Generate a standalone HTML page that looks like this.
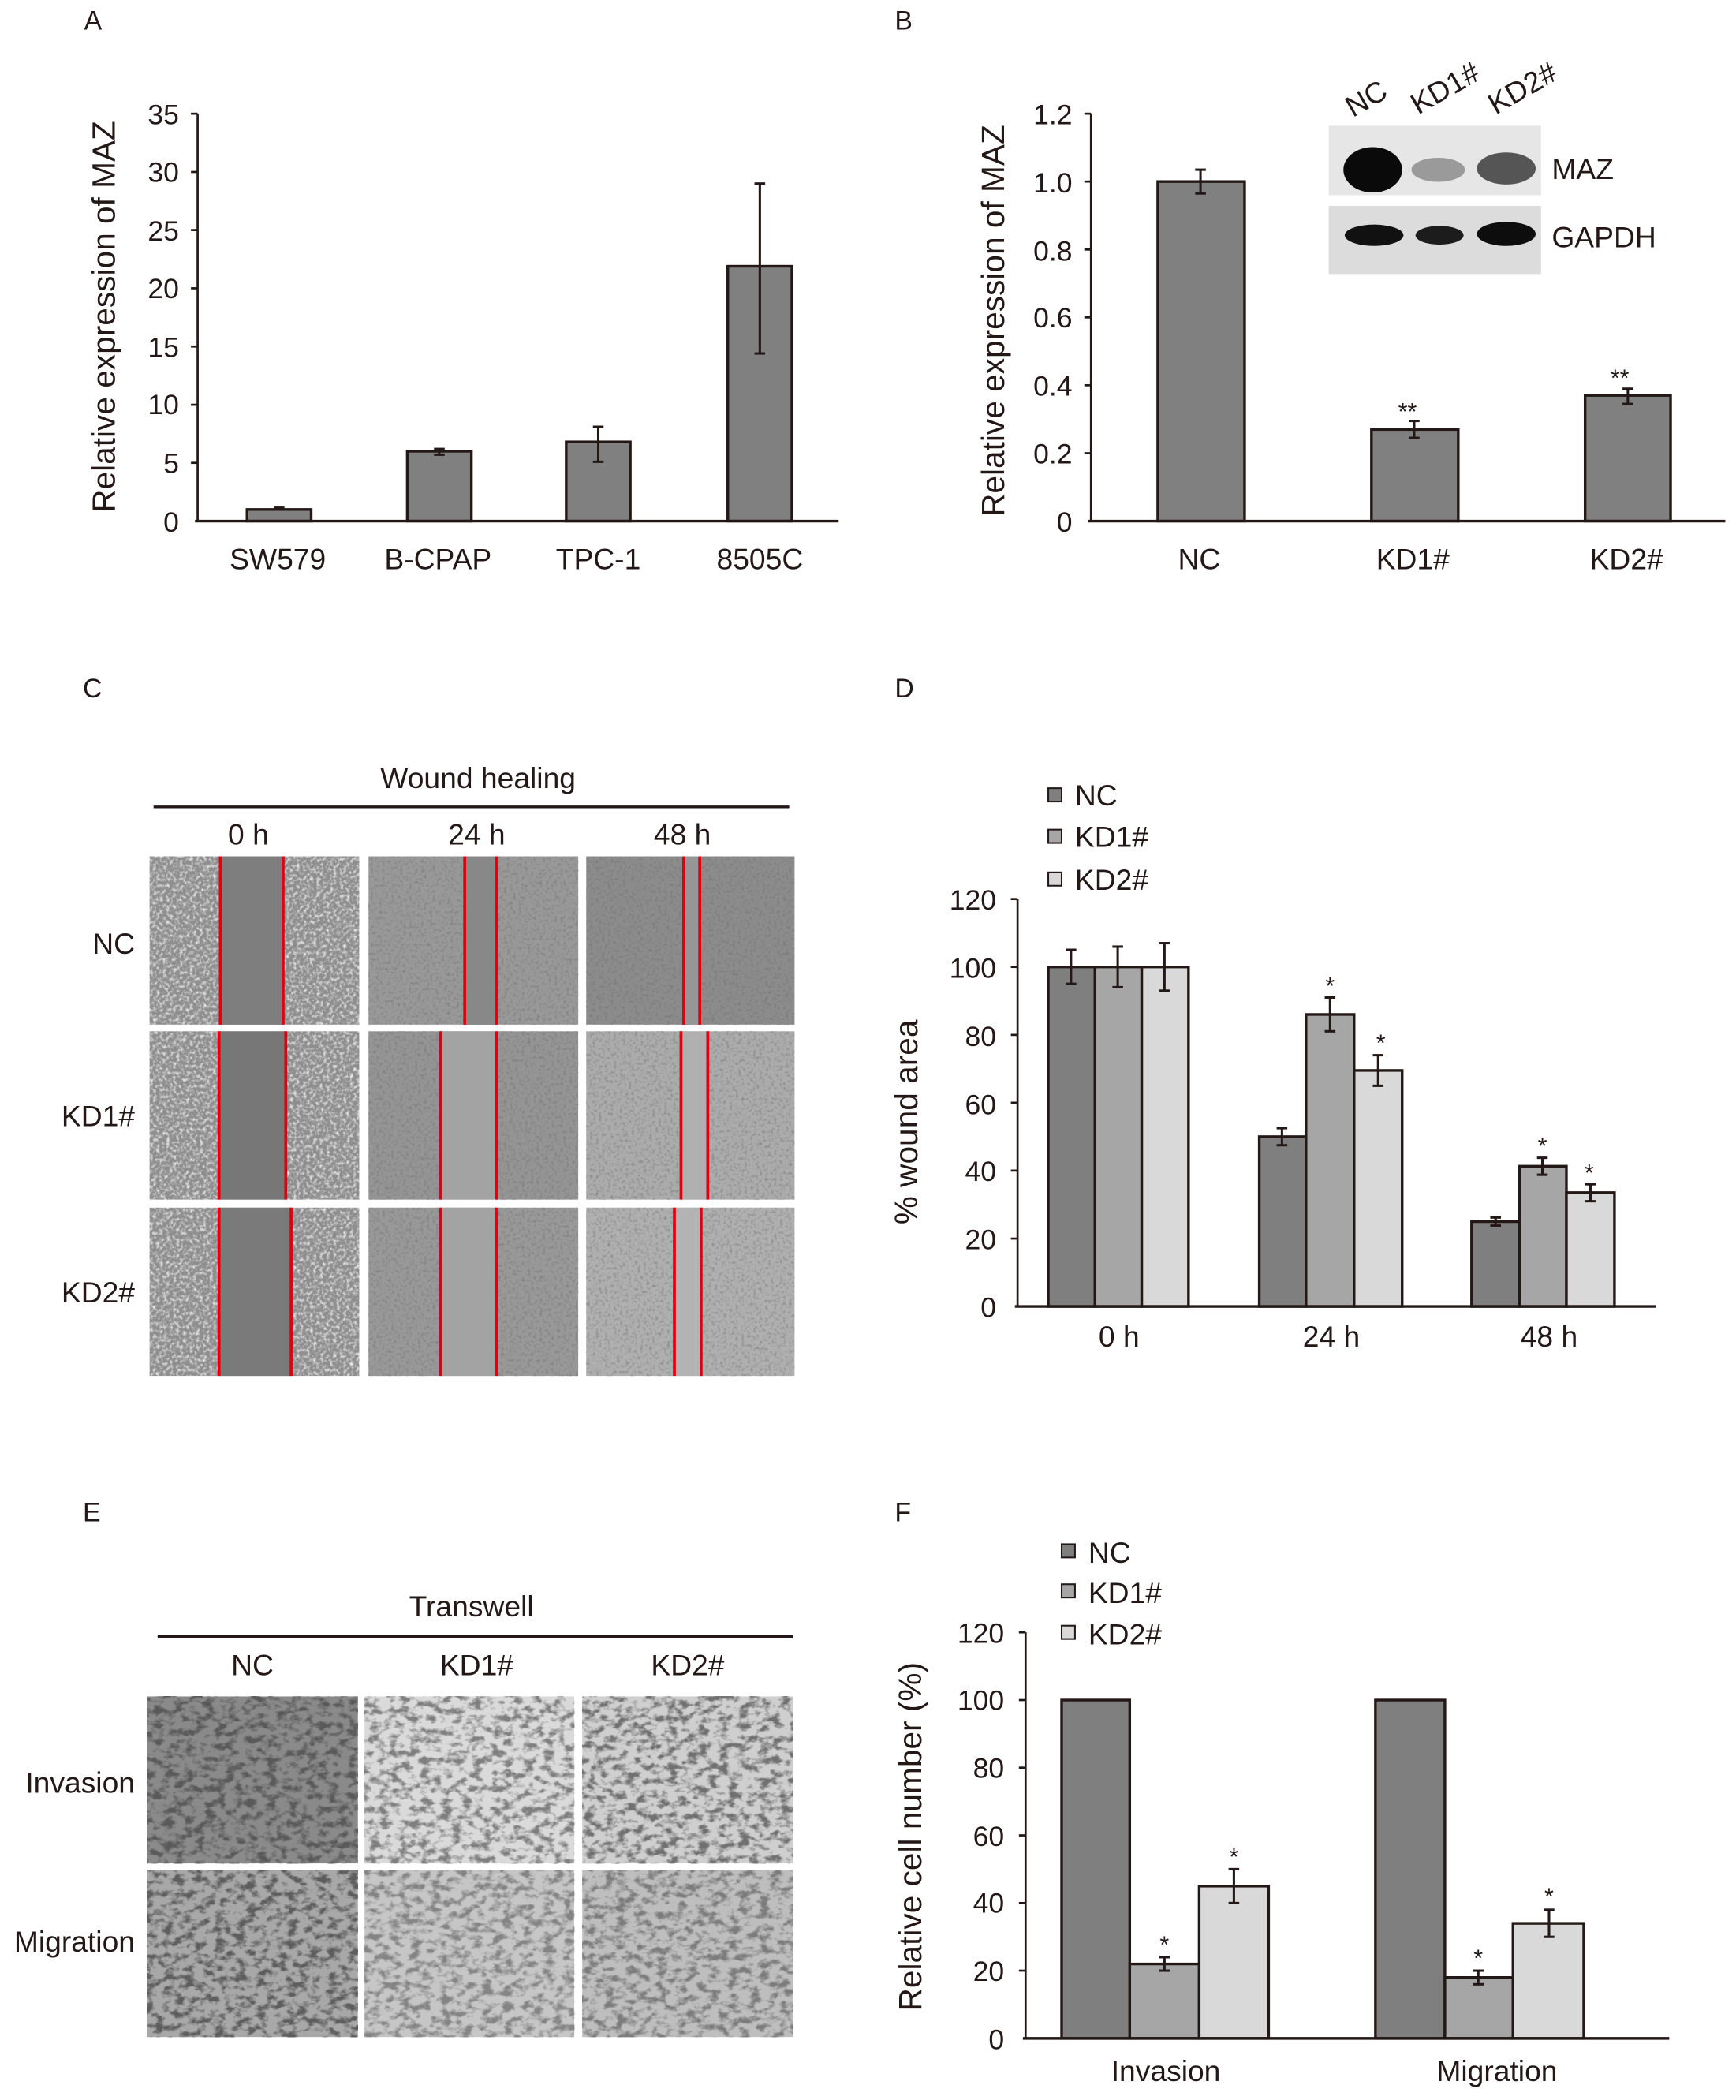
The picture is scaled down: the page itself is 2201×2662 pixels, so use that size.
<!DOCTYPE html>
<html><head><meta charset="utf-8"><style>
html,body{margin:0;padding:0;background:#fff;}
svg{display:block;}
text{font-family:"Liberation Sans",Arial,sans-serif;fill:#231815;}
</style></head><body>
<svg width="2201" height="2662" viewBox="0 0 1300 1572" xmlns="http://www.w3.org/2000/svg">
<defs>
<filter id="nf" x="0" y="0" width="100%" height="100%" filterUnits="objectBoundingBox">
 <feTurbulence type="fractalNoise" baseFrequency="0.45" numOctaves="2" seed="4"/>
 <feColorMatrix type="matrix" values="0 0 0 0 0.15 0 0 0 0 0.15 0 0 0 0 0.15 1.6 0 0 0 -0.75"/>
</filter>
<filter id="nw" x="0" y="0" width="100%" height="100%" filterUnits="objectBoundingBox">
 <feTurbulence type="fractalNoise" baseFrequency="0.4" numOctaves="2" seed="9"/>
 <feColorMatrix type="matrix" values="0 0 0 0 1 0 0 0 0 1 0 0 0 0 1 2.4 0 0 0 -1.05"/>
</filter>
<filter id="tb" x="0" y="0" width="100%" height="100%" filterUnits="objectBoundingBox">
 <feTurbulence type="fractalNoise" baseFrequency="0.13 0.19" numOctaves="3" seed="2"/>
 <feColorMatrix type="matrix" values="0 0 0 0 0.1 0 0 0 0 0.1 0 0 0 0 0.1 4 0 0 0 -1.8"/>
</filter>
</defs>

<!-- ===== Panel A ===== -->
<text x="63" y="22" font-size="20">A</text>
<g font-size="21" text-anchor="end">
<text x="134" y="93">35</text><text x="134" y="136">30</text><text x="134" y="180">25</text><text x="134" y="223">20</text>
<text x="134" y="267">15</text><text x="134" y="310">10</text><text x="134" y="354">5</text><text x="134" y="398">0</text>
</g>
<g stroke="#231815" stroke-width="1.6">
<line x1="148" y1="85" x2="148" y2="390"/>
<line x1="143" y1="85" x2="148" y2="85"/><line x1="143" y1="128.6" x2="148" y2="128.6"/><line x1="143" y1="172.1" x2="148" y2="172.1"/><line x1="143" y1="215.7" x2="148" y2="215.7"/><line x1="143" y1="259.3" x2="148" y2="259.3"/><line x1="143" y1="302.9" x2="148" y2="302.9"/><line x1="143" y1="346.4" x2="148" y2="346.4"/>
</g>
<g fill="#808080" stroke="#231815" stroke-width="2">
<rect x="185" y="381.3" width="48" height="8.7"/>
<rect x="305" y="337.7" width="48" height="52.3"/>
<rect x="424" y="330.7" width="48" height="59.3"/>
<rect x="545" y="199.2" width="48" height="190.8"/>
</g>
<g stroke="#231815" stroke-width="1.8">
<line x1="209" y1="380" x2="209" y2="382"/><line x1="205" y1="380" x2="213" y2="380"/>
<line x1="329" y1="336" x2="329" y2="340.3"/><line x1="325" y1="336" x2="333" y2="336"/><line x1="325" y1="340.3" x2="333" y2="340.3"/>
<line x1="448" y1="319.4" x2="448" y2="345.6"/><line x1="444" y1="319.4" x2="452" y2="319.4"/><line x1="444" y1="345.6" x2="452" y2="345.6"/>
<line x1="569" y1="137.3" x2="569" y2="264.5"/><line x1="565" y1="137.3" x2="573" y2="137.3"/><line x1="565" y1="264.5" x2="573" y2="264.5"/>
<line x1="146" y1="390" x2="628" y2="390" stroke-width="2"/>
</g>
<g font-size="22" text-anchor="middle">
<text x="208" y="426">SW579</text><text x="328" y="426">B-CPAP</text><text x="448" y="426">TPC-1</text><text x="569" y="426">8505C</text>
</g>
<text transform="translate(86,237) rotate(-90)" font-size="24" text-anchor="middle">Relative expression of MAZ</text>

<!-- ===== Panel B ===== -->
<text x="670" y="22" font-size="20">B</text>
<g font-size="21" text-anchor="end">
<text x="803" y="93">1.2</text><text x="803" y="144">1.0</text><text x="803" y="195">0.8</text><text x="803" y="245">0.6</text>
<text x="803" y="296">0.4</text><text x="803" y="347">0.2</text><text x="803" y="398">0</text>
</g>
<g stroke="#231815" stroke-width="1.6">
<line x1="817" y1="85" x2="817" y2="390"/>
<line x1="812" y1="85" x2="817" y2="85"/><line x1="812" y1="135.8" x2="817" y2="135.8"/><line x1="812" y1="186.7" x2="817" y2="186.7"/><line x1="812" y1="237.5" x2="817" y2="237.5"/><line x1="812" y1="288.3" x2="817" y2="288.3"/><line x1="812" y1="339.2" x2="817" y2="339.2"/>
</g>
<g fill="#808080" stroke="#231815" stroke-width="2">
<rect x="867" y="135.8" width="65" height="254.2"/>
<rect x="1027" y="321.4" width="65" height="68.6"/>
<rect x="1187" y="295.9" width="64" height="94.1"/>
</g>
<g stroke="#231815" stroke-width="1.8">
<line x1="899" y1="126.9" x2="899" y2="144.7"/><line x1="895" y1="126.9" x2="903" y2="126.9"/><line x1="895" y1="144.7" x2="903" y2="144.7"/>
<line x1="1059" y1="315" x2="1059" y2="327.7"/><line x1="1055" y1="315" x2="1063" y2="315"/><line x1="1055" y1="327.7" x2="1063" y2="327.7"/>
<line x1="1219" y1="290.9" x2="1219" y2="302.3"/><line x1="1215" y1="290.9" x2="1223" y2="290.9"/><line x1="1215" y1="302.3" x2="1223" y2="302.3"/>
<line x1="815" y1="390" x2="1292" y2="390" stroke-width="2"/>
</g>
<g font-size="18" text-anchor="middle"><text x="1054" y="314">**</text><text x="1213" y="289">**</text></g>
<g font-size="22" text-anchor="middle">
<text x="898" y="426">NC</text><text x="1058" y="426">KD1#</text><text x="1218" y="426">KD2#</text>
</g>
<text transform="translate(752,240) rotate(-90)" font-size="24" text-anchor="middle">Relative expression of MAZ</text>
<!-- blot -->
<rect x="995" y="94" width="159" height="52" fill="#e6e6e6"/>
<rect x="995" y="154" width="159" height="51" fill="#dcdcdc"/>
<ellipse cx="1028" cy="127" rx="22" ry="17" fill="#0a0a0a"/>
<ellipse cx="1077" cy="127" rx="20" ry="9" fill="#9a9a9a"/>
<ellipse cx="1128" cy="126" rx="22" ry="12" fill="#555"/>
<ellipse cx="1029" cy="176" rx="22" ry="8" fill="#111"/>
<ellipse cx="1078" cy="176" rx="18" ry="7" fill="#1c1c1c"/>
<ellipse cx="1128" cy="175" rx="22" ry="9" fill="#0d0d0d"/>
<g font-size="22">
<text x="1162" y="134">MAZ</text><text x="1162" y="185">GAPDH</text>
<text transform="translate(1013,88) rotate(-30)">NC</text>
<text transform="translate(1062,86) rotate(-30)">KD1#</text>
<text transform="translate(1120,86) rotate(-30)">KD2#</text>
</g>

<!-- ===== Panel C ===== -->
<text x="62" y="522" font-size="20">C</text>
<text x="358" y="590" font-size="22" text-anchor="middle">Wound healing</text>
<line x1="115" y1="604" x2="591" y2="604" stroke="#231815" stroke-width="2"/>
<g font-size="22" text-anchor="middle"><text x="186" y="632">0 h</text><text x="357" y="632">24 h</text><text x="511" y="632">48 h</text></g>
<g font-size="22" text-anchor="end"><text x="101" y="714">NC</text><text x="101" y="843">KD1#</text><text x="101" y="975">KD2#</text></g>
<rect x="112" y="641" width="157" height="126" fill="#8e8e8e"/><rect x="165" y="641" width="47" height="126" fill="#7e7e7e"/>
<rect x="276" y="641" width="157" height="126" fill="#999"/><rect x="348" y="641" width="24" height="126" fill="#888"/>
<rect x="439" y="641" width="156" height="126" fill="#8c8c8c"/><rect x="512" y="641" width="12" height="126" fill="#969696"/>
<rect x="112" y="772" width="157" height="126" fill="#8e8e8e"/><rect x="164" y="772" width="50" height="126" fill="#777"/>
<rect x="276" y="772" width="157" height="126" fill="#959595"/><rect x="330" y="772" width="42" height="126" fill="#a3a3a3"/>
<rect x="439" y="772" width="156" height="126" fill="#acacac"/><rect x="510" y="772" width="20" height="126" fill="#b0b0b0"/>
<rect x="112" y="904" width="157" height="126" fill="#8e8e8e"/><rect x="164" y="904" width="54" height="126" fill="#7a7a7a"/>
<rect x="276" y="904" width="157" height="126" fill="#999"/><rect x="330" y="904" width="42" height="126" fill="#a3a3a3"/>
<rect x="439" y="904" width="156" height="126" fill="#b0b0b0"/><rect x="505" y="904" width="20" height="126" fill="#b3b3b3"/>
<g opacity="0.85">
<rect x="112" y="641" width="53" height="126" filter="url(#nw)"/><rect x="212" y="641" width="57" height="126" filter="url(#nw)"/>
<rect x="112" y="772" width="52" height="126" filter="url(#nw)"/><rect x="214" y="772" width="55" height="126" filter="url(#nw)"/>
<rect x="112" y="904" width="52" height="126" filter="url(#nw)"/><rect x="218" y="904" width="51" height="126" filter="url(#nw)"/>
<rect x="276" y="641" width="72" height="126" filter="url(#nf)"/><rect x="372" y="641" width="61" height="126" filter="url(#nf)"/>
<rect x="276" y="772" width="54" height="126" filter="url(#nf)"/><rect x="372" y="772" width="61" height="126" filter="url(#nf)"/>
<rect x="276" y="904" width="54" height="126" filter="url(#nf)"/><rect x="372" y="904" width="61" height="126" filter="url(#nf)"/>
<rect x="439" y="641" width="73" height="126" filter="url(#nf)"/><rect x="524" y="641" width="71" height="126" filter="url(#nf)"/>
<rect x="439" y="772" width="71" height="126" filter="url(#nf)"/><rect x="530" y="772" width="65" height="126" filter="url(#nf)"/>
<rect x="439" y="904" width="66" height="126" filter="url(#nf)"/><rect x="525" y="904" width="70" height="126" filter="url(#nf)"/>
</g>
<g stroke="#e00010" stroke-width="2.2">
<line x1="165" y1="641" x2="165" y2="767"/><line x1="212" y1="641" x2="212" y2="767"/>
<line x1="348" y1="641" x2="348" y2="767"/><line x1="372" y1="641" x2="372" y2="767"/>
<line x1="512" y1="641" x2="512" y2="767"/><line x1="524" y1="641" x2="524" y2="767"/>
<line x1="164" y1="772" x2="164" y2="898"/><line x1="214" y1="772" x2="214" y2="898"/>
<line x1="330" y1="772" x2="330" y2="898"/><line x1="372" y1="772" x2="372" y2="898"/>
<line x1="510" y1="772" x2="510" y2="898"/><line x1="530" y1="772" x2="530" y2="898"/>
<line x1="164" y1="904" x2="164" y2="1030"/><line x1="218" y1="904" x2="218" y2="1030"/>
<line x1="330" y1="904" x2="330" y2="1030"/><line x1="372" y1="904" x2="372" y2="1030"/>
<line x1="505" y1="904" x2="505" y2="1030"/><line x1="525" y1="904" x2="525" y2="1030"/>
</g>

<!-- ===== Panel D ===== -->
<text x="670" y="522" font-size="20">D</text>
<g font-size="22">
<rect x="785" y="590" width="10" height="10" fill="#7f7f7f" stroke="#231815" stroke-width="1.2"/><text x="805" y="603">NC</text>
<rect x="785" y="621" width="10" height="10" fill="#a6a6a6" stroke="#231815" stroke-width="1.2"/><text x="805" y="634">KD1#</text>
<rect x="785" y="653" width="10" height="10" fill="#d9d9d9" stroke="#231815" stroke-width="1.2"/><text x="805" y="666">KD2#</text>
</g>
<g font-size="21" text-anchor="end">
<text x="746" y="681">120</text><text x="746" y="732">100</text><text x="746" y="783">80</text><text x="746" y="834">60</text>
<text x="746" y="884">40</text><text x="746" y="935">20</text><text x="746" y="986">0</text>
</g>
<g stroke="#231815" stroke-width="1.6">
<line x1="762" y1="673" x2="762" y2="978"/>
<line x1="757" y1="673" x2="762" y2="673"/><line x1="757" y1="723.8" x2="762" y2="723.8"/><line x1="757" y1="774.7" x2="762" y2="774.7"/><line x1="757" y1="825.5" x2="762" y2="825.5"/><line x1="757" y1="876.3" x2="762" y2="876.3"/><line x1="757" y1="927.2" x2="762" y2="927.2"/>
</g>
<g stroke="#231815" stroke-width="2">
<rect x="785" y="723.8" width="35" height="254.2" fill="#7f7f7f"/>
<rect x="820" y="723.8" width="35" height="254.2" fill="#a6a6a6"/>
<rect x="855" y="723.8" width="35" height="254.2" fill="#d9d9d9"/>
<rect x="943" y="850.9" width="35" height="127.1" fill="#7f7f7f"/>
<rect x="978" y="759.4" width="36" height="218.6" fill="#a6a6a6"/>
<rect x="1014" y="801.3" width="36" height="176.7" fill="#d9d9d9"/>
<rect x="1102" y="914.5" width="36" height="63.5" fill="#7f7f7f"/>
<rect x="1138" y="873" width="35" height="105" fill="#a6a6a6"/>
<rect x="1173" y="892.8" width="36" height="85.2" fill="#d9d9d9"/>
</g>
<g stroke="#231815" stroke-width="1.8">
<line x1="802" y1="711" x2="802" y2="736.5"/><line x1="798" y1="711" x2="806" y2="711"/><line x1="798" y1="736.5" x2="806" y2="736.5"/>
<line x1="837" y1="708.6" x2="837" y2="739"/><line x1="833" y1="708.6" x2="841" y2="708.6"/><line x1="833" y1="739" x2="841" y2="739"/>
<line x1="872" y1="706" x2="872" y2="741.6"/><line x1="868" y1="706" x2="876" y2="706"/><line x1="868" y1="741.6" x2="876" y2="741.6"/>
<line x1="960" y1="844.5" x2="960" y2="857.3"/><line x1="956" y1="844.5" x2="964" y2="844.5"/><line x1="956" y1="857.3" x2="964" y2="857.3"/>
<line x1="996" y1="746.7" x2="996" y2="772"/><line x1="992" y1="746.7" x2="1000" y2="746.7"/><line x1="992" y1="772" x2="1000" y2="772"/>
<line x1="1032" y1="789.9" x2="1032" y2="812.8"/><line x1="1028" y1="789.9" x2="1036" y2="789.9"/><line x1="1028" y1="812.8" x2="1036" y2="812.8"/>
<line x1="1120" y1="911.4" x2="1120" y2="917.5"/><line x1="1116" y1="911.4" x2="1124" y2="911.4"/><line x1="1116" y1="917.5" x2="1124" y2="917.5"/>
<line x1="1155" y1="866.7" x2="1155" y2="879.4"/><line x1="1151" y1="866.7" x2="1159" y2="866.7"/><line x1="1151" y1="879.4" x2="1159" y2="879.4"/>
<line x1="1191" y1="886.5" x2="1191" y2="899.2"/><line x1="1187" y1="886.5" x2="1195" y2="886.5"/><line x1="1187" y1="899.2" x2="1195" y2="899.2"/>
<line x1="760" y1="978" x2="1240" y2="978" stroke-width="2"/>
</g>
<g font-size="18" text-anchor="middle"><text x="996" y="744">*</text><text x="1034" y="787">*</text><text x="1155" y="864">*</text><text x="1190" y="884">*</text></g>
<g font-size="22" text-anchor="middle"><text x="838" y="1008">0 h</text><text x="997" y="1008">24 h</text><text x="1160" y="1008">48 h</text></g>
<text transform="translate(687,840) rotate(-90)" font-size="24" text-anchor="middle">% wound area</text>

<!-- ===== Panel E ===== -->
<text x="62" y="1139" font-size="20">E</text>
<text x="353" y="1210" font-size="22" text-anchor="middle">Transwell</text>
<line x1="118" y1="1225" x2="594" y2="1225" stroke="#231815" stroke-width="2"/>
<g font-size="22" text-anchor="middle"><text x="189" y="1254">NC</text><text x="357" y="1254">KD1#</text><text x="515" y="1254">KD2#</text></g>
<g font-size="22" text-anchor="end"><text x="101" y="1342">Invasion</text><text x="101" y="1461">Migration</text></g>
<rect x="110" y="1270" width="158" height="125" fill="#8a8a8a"/>
<rect x="273" y="1270" width="157" height="125" fill="#dadada"/>
<rect x="436" y="1270" width="158" height="125" fill="#cfcfcf"/>
<rect x="110" y="1400" width="158" height="125" fill="#a8a8a8"/>
<rect x="273" y="1400" width="157" height="125" fill="#c6c6c6"/>
<rect x="436" y="1400" width="158" height="125" fill="#bebebe"/>
<rect x="110" y="1270" width="158" height="125" filter="url(#tb)" opacity="1"/>
<rect x="273" y="1270" width="157" height="125" filter="url(#tb)" opacity="0.7"/>
<rect x="436" y="1270" width="158" height="125" filter="url(#tb)" opacity="0.8"/>
<rect x="110" y="1400" width="158" height="125" filter="url(#tb)" opacity="0.95"/>
<rect x="273" y="1400" width="157" height="125" filter="url(#tb)" opacity="0.6"/>
<rect x="436" y="1400" width="158" height="125" filter="url(#tb)" opacity="0.65"/>

<!-- ===== Panel F ===== -->
<text x="670" y="1139" font-size="20">F</text>
<g font-size="22">
<rect x="795" y="1156" width="10" height="10" fill="#7f7f7f" stroke="#231815" stroke-width="1.2"/><text x="815" y="1170">NC</text>
<rect x="795" y="1186" width="10" height="10" fill="#a6a6a6" stroke="#231815" stroke-width="1.2"/><text x="815" y="1200">KD1#</text>
<rect x="795" y="1217" width="10" height="10" fill="#d9d9d9" stroke="#231815" stroke-width="1.2"/><text x="815" y="1231">KD2#</text>
</g>
<g font-size="21" text-anchor="end">
<text x="752" y="1230">120</text><text x="752" y="1280">100</text><text x="752" y="1331">80</text><text x="752" y="1382">60</text>
<text x="752" y="1432">40</text><text x="752" y="1483">20</text><text x="752" y="1534">0</text>
</g>
<g stroke="#231815" stroke-width="1.6">
<line x1="768" y1="1222" x2="768" y2="1526"/>
<line x1="763" y1="1222" x2="768" y2="1222"/><line x1="763" y1="1272.7" x2="768" y2="1272.7"/><line x1="763" y1="1323.3" x2="768" y2="1323.3"/><line x1="763" y1="1374" x2="768" y2="1374"/><line x1="763" y1="1424.7" x2="768" y2="1424.7"/><line x1="763" y1="1475.3" x2="768" y2="1475.3"/>
</g>
<g stroke="#231815" stroke-width="2">
<rect x="795" y="1272.7" width="51" height="253.3" fill="#7f7f7f"/>
<rect x="846" y="1470.3" width="52" height="55.7" fill="#a6a6a6"/>
<rect x="898" y="1412" width="52" height="114" fill="#d9d9d9"/>
<rect x="1030" y="1272.7" width="52" height="253.3" fill="#7f7f7f"/>
<rect x="1082" y="1480.4" width="51" height="45.6" fill="#a6a6a6"/>
<rect x="1133" y="1439.9" width="53" height="86.1" fill="#d9d9d9"/>
</g>
<g stroke="#231815" stroke-width="1.8">
<line x1="872" y1="1465.2" x2="872" y2="1475.3"/><line x1="868" y1="1465.2" x2="876" y2="1465.2"/><line x1="868" y1="1475.3" x2="876" y2="1475.3"/>
<line x1="924" y1="1399.3" x2="924" y2="1424.7"/><line x1="920" y1="1399.3" x2="928" y2="1399.3"/><line x1="920" y1="1424.7" x2="928" y2="1424.7"/>
<line x1="1107" y1="1475.3" x2="1107" y2="1485.5"/><line x1="1103" y1="1475.3" x2="1111" y2="1475.3"/><line x1="1103" y1="1485.5" x2="1111" y2="1485.5"/>
<line x1="1160" y1="1429.7" x2="1160" y2="1450"/><line x1="1156" y1="1429.7" x2="1164" y2="1429.7"/><line x1="1156" y1="1450" x2="1164" y2="1450"/>
<line x1="766" y1="1526" x2="1250" y2="1526" stroke-width="2"/>
</g>
<g font-size="18" text-anchor="middle"><text x="872" y="1462">*</text><text x="924" y="1396">*</text><text x="1107" y="1472">*</text><text x="1160" y="1426">*</text></g>
<g font-size="22" text-anchor="middle"><text x="873" y="1558">Invasion</text><text x="1121" y="1558">Migration</text></g>
<text transform="translate(690,1375) rotate(-90)" font-size="24" text-anchor="middle">Relative cell number (%)</text>
</svg>
</body></html>
